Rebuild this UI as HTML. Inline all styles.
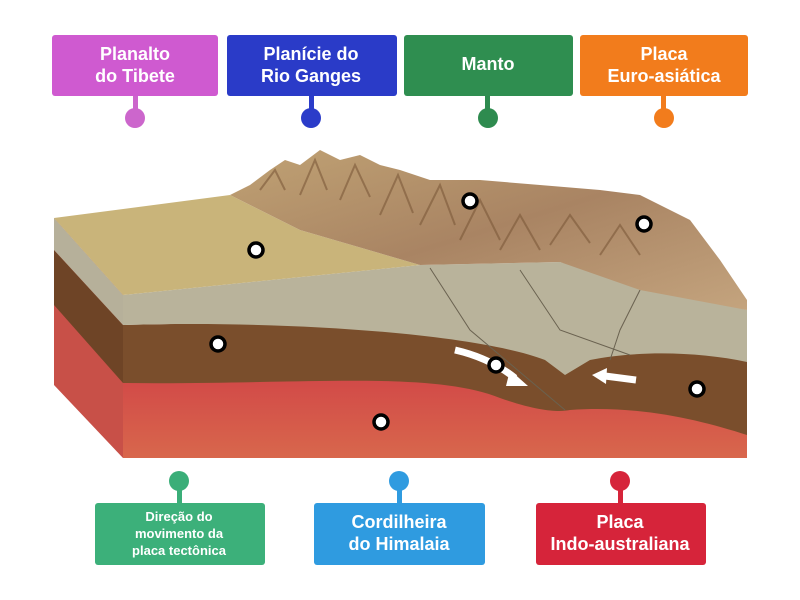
<!DOCTYPE html>
<html><head><meta charset="utf-8"><style>
body{margin:0;width:800px;height:600px;background:#fff;overflow:hidden}
svg{display:block}
text{font-family:"Liberation Sans",sans-serif;font-weight:bold;fill:#fff;text-anchor:middle}
</style></head><body>
<svg width="800" height="600" viewBox="0 0 800 600">
<defs>
<linearGradient id="red" x1="0" y1="0" x2="0" y2="1"><stop offset="0" stop-color="#d24a48"/><stop offset="1" stop-color="#d8674c"/></linearGradient>
<linearGradient id="mtn" x1="0" y1="0" x2="1" y2="1"><stop offset="0" stop-color="#c0a274"/><stop offset="0.5" stop-color="#a98463"/><stop offset="1" stop-color="#c4a47e"/></linearGradient>
</defs>
<polygon points="54,218 123,295 123,458 54,385" fill="#c85048"/>
<polygon points="54,250 123,325 123,383 54,305" fill="#6e4426"/>
<polygon points="54,218 123,295 123,325 54,250" fill="#b6b09a"/>
<polygon points="123,380 747,380 747,458 123,458" fill="url(#red)"/>
<path d="M123,325 C300,320 420,330 500,345 L560,360 C620,350 700,350 747,360 L747,435 C700,420 640,405 570,410 C560,412 540,412 500,398 C430,370 300,385 123,383 Z" fill="#7a4e2c"/>
<path d="M123,295 L420,265 L560,262 L747,310 L747,362 C700,352 640,350 590,360 L565,375 L545,360 C480,335 300,320 123,325 Z" fill="#b9b39b"/>
<path d="M430,268 L470,330 L565,410 M520,270 L560,330 L630,355 M640,290 L620,330 L610,360" stroke="#6a6250" stroke-width="1" fill="none"/>
<polygon points="54,218 230,195 300,230 420,265 123,295" fill="#c9b47a"/>
<path d="M230,195 L250,185 270,170 285,160 300,165 320,150 340,160 360,155 380,165 400,170 430,180 480,180 540,185 600,190 640,195 690,220 720,260 747,300 L747,310 L640,290 560,262 420,265 300,230 Z" fill="url(#mtn)"/>
<path d="M260,190 l15,-20 10,20 M300,195 l15,-35 12,30 M340,200 l15,-35 15,32 M380,215 l18,-40 15,38 M420,225 l20,-40 15,40 M460,240 l20,-40 20,40 M500,250 l20,-35 20,35 M550,245 l20,-30 20,28 M600,255 l20,-30 20,30" stroke="#7c5838" stroke-width="2" fill="none" opacity=".6"/>
<path d="M455,350 Q490,358 515,378" stroke="#fff" stroke-width="7" fill="none"/>
<polygon points="510,370 528,386 506,386" fill="#fff"/>
<path d="M636,380 L605,376" stroke="#fff" stroke-width="7"/>
<polygon points="607,368 592,375 606,384" fill="#fff"/>
<g fill="#fff" stroke="#000" stroke-width="3.5">
<circle cx="256" cy="250" r="7"/><circle cx="470" cy="201" r="7"/><circle cx="644" cy="224" r="7"/>
<circle cx="218" cy="344" r="7"/><circle cx="496" cy="365" r="7"/><circle cx="697" cy="389" r="7"/><circle cx="381" cy="422" r="7"/>
</g>
<g>
<rect x="133" y="95" width="5" height="20" fill="#cc66cc"/><circle cx="135" cy="118" r="10" fill="#cc66cc"/>
<rect x="52" y="35" width="166" height="61" rx="3" fill="#cf5ad0"/>
<text x="135" y="60" font-size="18">Planalto</text><text x="135" y="82" font-size="18">do Tibete</text>
<rect x="309" y="95" width="5" height="20" fill="#2b3cc9"/><circle cx="311" cy="118" r="10" fill="#2b3cc9"/>
<rect x="227" y="35" width="170" height="61" rx="3" fill="#2a3bc8"/>
<text x="311" y="60" font-size="18">Planície do</text><text x="311" y="82" font-size="18">Rio Ganges</text>
<rect x="485" y="95" width="5" height="20" fill="#2e8b4f"/><circle cx="488" cy="118" r="10" fill="#2e8b4f"/>
<rect x="404" y="35" width="169" height="61" rx="3" fill="#2f8e50"/>
<text x="488" y="70" font-size="18">Manto</text>
<rect x="661" y="95" width="5" height="20" fill="#f27c1c"/><circle cx="664" cy="118" r="10" fill="#f27c1c"/>
<rect x="580" y="35" width="168" height="61" rx="3" fill="#f27c1c"/>
<text x="664" y="60" font-size="18">Placa</text><text x="664" y="82" font-size="18">Euro-asiática</text>
</g>
<g>
<circle cx="179" cy="481" r="10" fill="#3aae78"/><rect x="177" y="481" width="5" height="22" fill="#3aae78"/>
<rect x="95" y="503" width="170" height="62" rx="3" fill="#3cb07a"/>
<text x="179" y="521" font-size="13">Direção do</text><text x="179" y="538" font-size="13">movimento da</text><text x="179" y="555" font-size="13">placa tectônica</text>
<circle cx="399" cy="481" r="10" fill="#2f9be0"/><rect x="397" y="481" width="5" height="22" fill="#2f9be0"/>
<rect x="314" y="503" width="171" height="62" rx="3" fill="#2f9be0"/>
<text x="399" y="528" font-size="18">Cordilheira</text><text x="399" y="550" font-size="18">do Himalaia</text>
<circle cx="620" cy="481" r="10" fill="#d6243a"/><rect x="618" y="481" width="5" height="22" fill="#d6243a"/>
<rect x="536" y="503" width="170" height="62" rx="3" fill="#d6243a"/>
<text x="620" y="528" font-size="18">Placa</text><text x="620" y="550" font-size="18">Indo-australiana</text>
</g>
</svg>
</body></html>
